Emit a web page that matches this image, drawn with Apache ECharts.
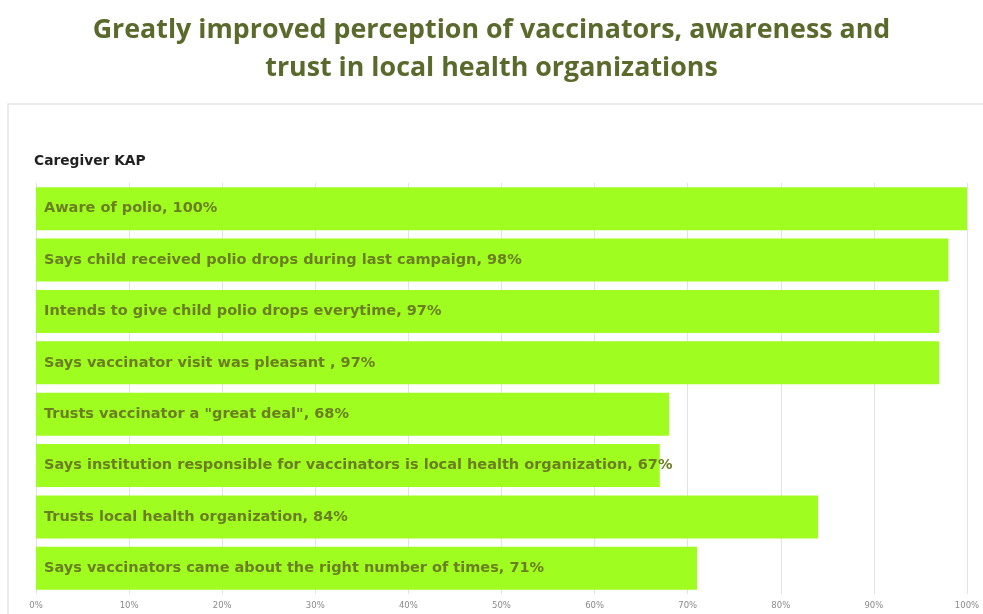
<!DOCTYPE html>
<html>
<head>
<meta charset="utf-8">
<title>Caregiver KAP</title>
<script src="https://cdn.jsdelivr.net/npm/echarts@6/dist/echarts.min.js"></script>
<style>
  html, body { margin: 0; padding: 0; background: #ffffff; }
  #chart { width: 983px; height: 614px; }
</style>
</head>
<body>
<div id="chart"></div>
<script>
// Survey items, top to bottom
const categories = [
  'Aware of polio',
  'Says child received polio drops during last campaign',
  'Intends to give child polio drops everytime',
  'Says vaccinator visit was pleasant ',
  'Trusts vaccinator a "great deal"',
  'Says institution responsible for vaccinators is local health organization',
  'Trusts local health organization',
  'Says vaccinators came about the right number of times'
];
// Share of caregivers, percent
const values = [100, 98, 97, 97, 68, 67, 84, 71];
// Value axis ticks
const tickValues = [0, 10, 20, 30, 40, 50, 60, 70, 80, 90, 100];

const chart = echarts.init(document.getElementById('chart'));

const option = {
  animation: false,
  backgroundColor: '#ffffff',
  title: [
    {
      text: 'Greatly improved perception of vaccinators, awareness and\ntrust in local health organizations',
      left: 'center',
      top: 6,
      textStyle: {
        fontFamily: 'Open Sans',
        fontWeight: 'bold',
        fontSize: 26.8,
        lineHeight: 38,
        color: '#5a6a2c',
        align: 'center'
      }
    },
    {
      text: 'Caregiver KAP',
      left: 29,
      top: 149,
      textStyle: {
        fontFamily: 'DejaVu Sans',
        fontWeight: 'bold',
        fontSize: 13.8,
        color: '#222222'
      }
    }
  ],
  graphic: [
    {
      type: 'polyline',
      shape: { points: [[8, 614], [8, 104], [983, 104]] },
      style: { stroke: '#e4e4e4', lineWidth: 1.5, fill: null }
    }
  ],
  grid: {
    left: 36,
    right: 16,
    top: 183,
    bottom: 20,
    containLabel: false
  },
  xAxis: {
    type: 'value',
    min: 0,
    max: 100,
    interval: 10,
    axisLine: { show: false },
    axisTick: { show: false },
    splitLine: { show: true, lineStyle: { color: '#e2e2e2', width: 1 } },
    axisLabel: {
      margin: 7,
      fontFamily: 'DejaVu Sans',
      fontSize: 8.5,
      color: '#8a8a8a',
      formatter: function (v) {
        return tickValues.indexOf(v) >= 0 ? v + '%' : '';
      }
    }
  },
  yAxis: {
    type: 'category',
    inverse: true,
    data: categories,
    axisLine: { show: false },
    axisTick: { show: false },
    axisLabel: { show: false },
    splitLine: { show: false }
  },
  series: [
    {
      type: 'bar',
      data: values,
      barCategoryGap: '16.5%',
      itemStyle: { color: '#9ffd1f' },
      label: {
        show: true,
        position: 'insideLeft',
        distance: 8,
        fontFamily: 'DejaVu Sans',
        fontWeight: 'bold',
        fontSize: 14.5,
        color: '#6b7f22',
        formatter: function (p) {
          return p.name + ', ' + p.value + '%';
        }
      }
    }
  ]
};

chart.setOption(option);
</script>
</body>
</html>
